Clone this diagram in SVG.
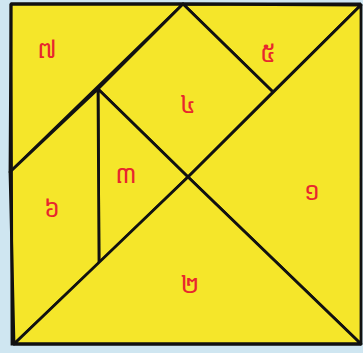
<svg xmlns="http://www.w3.org/2000/svg" width="363" height="353" viewBox="0 0 363 353">
<style>
.piece{fill:#f5e62a;stroke:#111;stroke-width:2.8;stroke-linejoin:round}
.lbl{fill:#e8262e;font-family:"Noto Sans Khmer","Noto Serif Khmer","Khmer OS","DejaVu Sans",sans-serif;font-size:25px;text-anchor:middle;dominant-baseline:central}
</style>
<rect x="0" y="0" width="363" height="353" fill="#cfe6f1"/>
<rect x="11" y="4" width="350" height="340" fill="#f5e62a"/>
<g id="p7"><polygon class="piece" points="11,4 183,4 10,172"/><text class="lbl" x="47" y="48">៧</text></g>
<g id="p5"><polygon class="piece" points="183,4 361,5 273,92"/><text class="lbl" x="268" y="52">៥</text></g>
<g id="p4"><polygon class="piece" points="183,4 273,92 188,177 98,89"/><text class="lbl" x="188" y="103">៤</text></g>
<g id="p3"><polygon class="piece" points="98,89 188,177 99,263"/><text class="lbl" x="126" y="173">៣</text></g>
<g id="p6"><polygon class="piece" points="10,172 98,89 99,263 14,344"/><text class="lbl" x="52" y="207">៦</text></g>
<g id="p1"><polygon class="piece" points="188,177 361,5 361,344"/><text class="lbl" x="312" y="190">១</text></g>
<g id="p2"><polygon class="piece" points="14,344 188,177 361,344"/><text class="lbl" x="190" y="283">២</text></g>
<g id="border"><polyline points="11,4 361,4" fill="none" stroke="#111" stroke-width="2.8"/><polyline points="11,4 12,344 361,344" fill="none" stroke="#111" stroke-width="2.8"/></g>
</svg>
